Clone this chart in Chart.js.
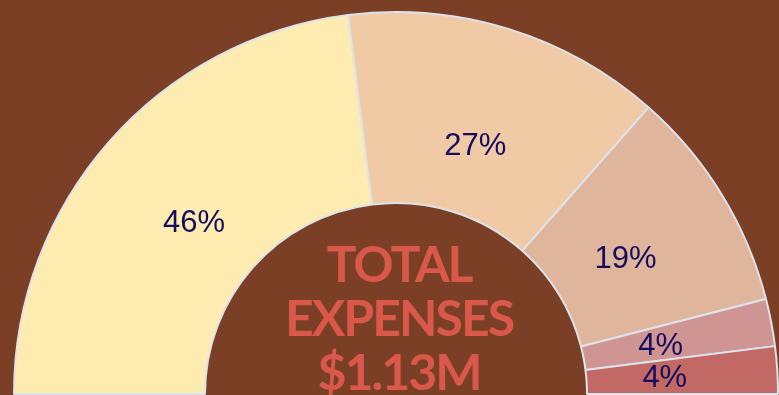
<!DOCTYPE html>
<html>
<head>
<meta charset="utf-8">
<title>Total Expenses</title>
<script src="https://cdn.jsdelivr.net/npm/chart.js@4/dist/chart.umd.min.js"></script>
<style>
  html, body {
    margin: 0;
    padding: 0;
    background: #7a3f24;
    overflow: hidden;
  }
  #chart {
    display: block;
  }
</style>
</head>
<body>
<canvas id="chart" width="779" height="406"></canvas>
<script>
const categories = ["Category A", "Category B", "Category C", "Category D", "Category E"];
const shares = [46, 27, 19, 4, 4];
const sliceColors = ["#feebb0", "#f0c9a5", "#dfb59c", "#cf9593", "#c26865"];
const centerLines = ["TOTAL", "EXPENSES", "$1.13M"];

const LABEL_COLOR = "#160c5f";
const CENTER_COLOR = "#d9584a";

// percentage labels inside each slice (slightly flattened ring so top labels sit lower)
const sliceLabels = {
  id: "sliceLabels",
  afterDatasetsDraw(chart) {
    const { ctx } = chart;
    const meta = chart.getDatasetMeta(0);
    const data = chart.data.datasets[0].data;
    ctx.save();
    ctx.fillStyle = LABEL_COLOR;
    ctx.font = "31px 'Liberation Sans', Arial, sans-serif";
    ctx.textAlign = "center";
    ctx.textBaseline = "middle";
    meta.data.forEach((arc, i) => {
      const { x, y, startAngle, endAngle, innerRadius, outerRadius } = arc.getProps(
        ["x", "y", "startAngle", "endAngle", "innerRadius", "outerRadius"], true
      );
      const mid = (startAngle + endAngle) / 2;
      const ring = outerRadius - innerRadius;
      const rx = innerRadius + ring * 0.41;
      const ry = innerRadius + ring * 0.36;
      ctx.fillText(data[i] + "%", x + Math.cos(mid) * rx, y + Math.sin(mid) * ry + 1);
    });
    ctx.restore();
  },
};

// big text in the hole of the doughnut
const centerText = {
  id: "centerText",
  afterDatasetsDraw(chart) {
    const { ctx } = chart;
    const arc = chart.getDatasetMeta(0).data[0];
    if (!arc) return;
    ctx.save();
    ctx.fillStyle = CENTER_COLOR;
    ctx.font = "bold 50px Lato, sans-serif";
    ctx.letterSpacing = "-2px";
    ctx.textAlign = "center";
    ctx.textBaseline = "alphabetic";
    centerLines.forEach((line, i) => {
      ctx.fillText(line, arc.x + 3, 282 + i * 54);
    });
    ctx.restore();
  },
};

new Chart(document.getElementById("chart"), {
  type: "doughnut",
  data: {
    labels: categories,
    datasets: [
      {
        data: shares,
        backgroundColor: sliceColors,
        borderColor: "#dde3ea",
        borderWidth: 2,
        hoverOffset: 0,
      },
    ],
  },
  options: {
    responsive: false,
    animation: false,
    rotation: -90,
    circumference: 180,
    cutout: "50%",
    layout: { padding: { left: 13, right: 0, top: 0, bottom: 0 } },
    plugins: {
      legend: { display: false },
      tooltip: { enabled: false },
    },
  },
  plugins: [sliceLabels, centerText],
});
</script>
</body>
</html>
